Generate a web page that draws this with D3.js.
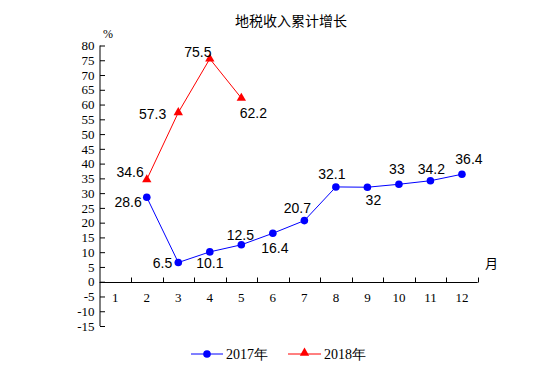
<!DOCTYPE html>
<html><head><meta charset="utf-8">
<script src="https://cdn.jsdelivr.net/npm/d3@7"></script>
<style>body{margin:0;background:#fff}</style>
</head><body>
<svg id="c" width="555" height="391"></svg>
<script>
const months = [1,2,3,4,5,6,7,8,9,10,11,12];
const yTicks = [-15,-10,-5,0,5,10,15,20,25,30,35,40,45,50,55,60,65,70,75,80];
const months2017 = [2,3,4,5,6,7,8,9,10,11,12];
const values2017 = [28.6,6.5,10.1,12.5,16.4,20.7,32.1,32,33,34.2,36.4];
const months2018 = [2,3,4,5];
const values2018 = [34.6,57.3,75.5,62.2];
const seriesNames = ["2017年","2018年"];
const title = "地税收入累计增长";

// label placement (style only): [anchor, dx, dy]
const place2017 = [["end",-5,10],["end",-6,5],["middle",0,16],["middle",-1,-5],["middle",2,20],["middle",-7,-8],["middle",-4,-8],["middle",6,18],["middle",-2,-10],["middle",1,-7],["middle",7,-10]];
const place2018 = [["end",-3,-3],["end",-12,6],["middle",-12,-2],["middle",12,20]];

const svg = d3.select("#c");
const x = d3.scaleBand().domain(months).range([99.5,477.7]);
const y = d3.scaleLinear().domain([-15,80]).range([326,45.5]);
const cx = m => x(m) + x.bandwidth()/2;

const serif = "'Liberation Serif','Times New Roman',serif";
const sans = "'Liberation Sans',Arial,sans-serif";

svg.append("text").attr("x",291).attr("y",26).attr("text-anchor","middle")
  .attr("font-family","'Noto Sans CJK SC',sans-serif").attr("font-size",14).text(title);

// y axis
const ya = svg.append("g").attr("transform","translate(99.5,0)")
  .call(d3.axisRight(y).tickValues(yTicks).tickSize(5).tickFormat(d => String(d)));
ya.select(".domain").attr("d",`M0.5,${y(-15)}V${y(80)}`).attr("stroke","#000");
ya.selectAll(".tick line").attr("stroke","#000").attr("x1",0.5).attr("x2",5.5);
ya.selectAll(".tick text").attr("x",-5).attr("text-anchor","end")
  .attr("font-family",serif).attr("font-size",13).attr("fill","#000");

// x axis at zero
const xa = svg.append("g").attr("transform",`translate(0,${Math.round(y(0))+0.5})`);
xa.append("line").attr("x1",99.5).attr("x2",477.7).attr("stroke","#000");
const bounds = months.slice(1).map(m => x(m)).concat([477.7]);
xa.selectAll("line.t").data(bounds).enter().append("line").attr("class","t")
  .attr("x1",d=>Math.round(d)+0.5).attr("x2",d=>Math.round(d)+0.5).attr("y1",0).attr("y2",-5).attr("stroke","#000");
xa.selectAll("text").data(months).enter().append("text")
  .attr("x",d=>cx(d)).attr("y",19).attr("text-anchor","middle")
  .attr("font-family",serif).attr("font-size",13).text(d=>d);

svg.append("text").attr("x",103).attr("y",38).attr("font-family",serif).attr("font-size",12).text("%");
svg.append("text").attr("x",485).attr("y",268).attr("font-family","'Noto Sans CJK SC',sans-serif").attr("font-size",13).text("月");

const line = d3.line().x(d=>cx(d[0])).y(d=>y(d[1]));
const d17 = months2017.map((m,i)=>[m,values2017[i]]);
const d18 = months2018.map((m,i)=>[m,values2018[i]]);

svg.append("path").attr("d",line(d17)).attr("fill","none").attr("stroke","#0000ff").attr("stroke-width",1);
svg.selectAll("circle.p").data(d17).enter().append("circle").attr("class","p")
  .attr("cx",d=>cx(d[0])).attr("cy",d=>y(d[1])).attr("r",3.8).attr("fill","#0000ff");

svg.append("path").attr("d",line(d18)).attr("fill","none").attr("stroke","#ff0000").attr("stroke-width",1);
const tri = d3.symbol().type(d3.symbolTriangle).size(38);
svg.selectAll("path.t").data(d18).enter().append("path").attr("class","t")
  .attr("d",tri).attr("transform",d=>`translate(${cx(d[0])},${y(d[1])})`).attr("fill","#ff0000");

svg.selectAll("text.l17").data(d17).enter().append("text").attr("class","l17")
  .attr("x",(d,i)=>cx(d[0])+place2017[i][1]).attr("y",(d,i)=>y(d[1])+place2017[i][2])
  .attr("text-anchor",(d,i)=>place2017[i][0]).attr("font-family",sans).attr("font-size",14).text(d=>d[1]);
svg.selectAll("text.l18").data(d18).enter().append("text").attr("class","l18")
  .attr("x",(d,i)=>cx(d[0])+place2018[i][1]).attr("y",(d,i)=>y(d[1])+place2018[i][2])
  .attr("text-anchor",(d,i)=>place2018[i][0]).attr("font-family",sans).attr("font-size",14).text(d=>d[1]);

// legend
const lg = svg.append("g");
lg.append("line").attr("x1",191).attr("x2",223).attr("y1",354).attr("y2",354).attr("stroke","#0000ff");
lg.append("circle").attr("cx",207).attr("cy",354).attr("r",3.8).attr("fill","#0000ff");
lg.append("text").attr("x",226).attr("y",359).attr("font-family",serif).attr("font-size",14).text(seriesNames[0]);
lg.append("line").attr("x1",288).attr("x2",321).attr("y1",354).attr("y2",354).attr("stroke","#ff0000");
lg.append("path").attr("d",tri).attr("transform","translate(304.5,353)").attr("fill","#ff0000");
lg.append("text").attr("x",324).attr("y",359).attr("font-family",serif).attr("font-size",14).text(seriesNames[1]);
</script>
</body></html>
